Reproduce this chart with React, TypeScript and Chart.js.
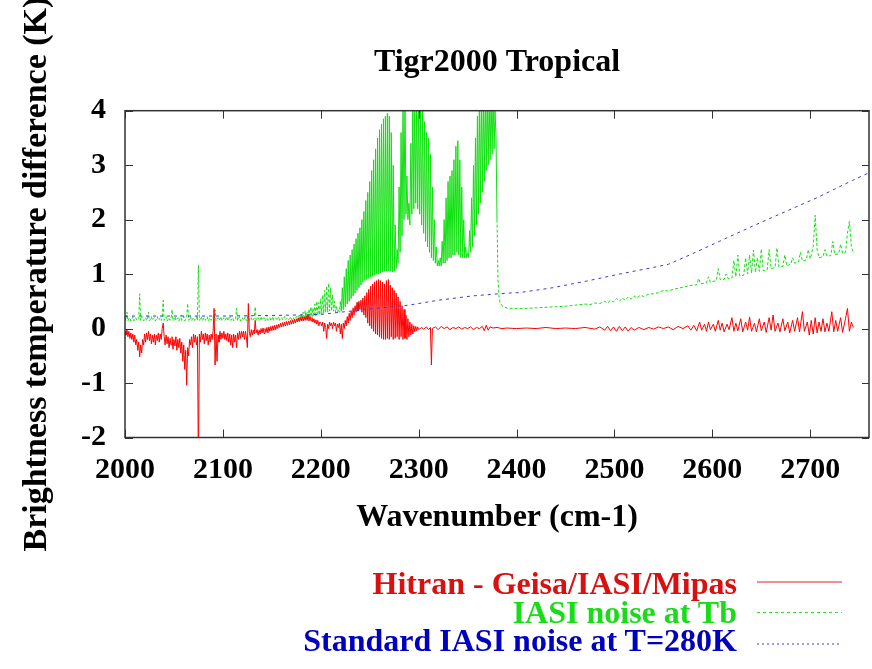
import React, { useEffect, useRef } from "react";
import { Chart, registerables } from "chart.js";

Chart.register(...registerables);

// ---------- axes ----------
const xTicks = [2000, 2100, 2200, 2300, 2400, 2500, 2600, 2700];
const yTicks = [-2, -1, 0, 1, 2, 3, 4];
const xMin = 2000;
const xMax = 2760;
const yMin = -2;
const yMax = 4;

const chartTitle = "Tigr2000 Tropical";
const xTitle = "Wavenumber (cm-1)";
const yTitle = "Brightness temperature difference (K)";
const seriesLabels = ["Hitran - Geisa/IASI/Mipas", "IASI noise at Tb", "Standard IASI noise at T=280K"];

// ---------- red: Hitran - Geisa/IASI/Mipas ----------
// one value per cm-1 from 2000 to 2300
const redFineStart = 2000;
const redFine = [
  -0.05, -0.12, -0.02, -0.15, -0.05, -0.18, -0.08, -0.2, -0.1, -0.25,
  -0.12, -0.3, -0.2, -0.4, -0.25, -0.52, -0.3, -0.45, -0.2, -0.3,
  -0.1, -0.25, -0.08, -0.2, -0.05, -0.22, -0.1, -0.28, -0.12, -0.25,
  -0.1, -0.3, -0.12, -0.22, -0.08, -0.25, -0.1, -0.2, 0.0, 0.1,
  -0.15, -0.3, -0.12, -0.28, -0.15, -0.35, -0.18, -0.3, -0.15, -0.38,
  -0.2, -0.32, -0.15, -0.4, -0.2, -0.35, -0.18, -0.45, -0.25, -0.6,
  -0.3, -0.75, -0.4, -1.04, -0.35, -0.5, -0.2, -0.3, -0.15, -0.35,
  -0.1, -0.25, -0.12, -0.3, -0.15, -2.6, -0.1, -0.25, -0.05, -0.2,
  -0.1, -0.28, -0.08, -0.22, -0.1, -0.3, -0.12, -0.25, -0.1, -0.2,
  -0.05, 0.37, -0.67, -0.1, -0.6, -0.12, -0.25, -0.05, -0.2, -0.08,
  -0.18, -0.05, -0.2, -0.1, -0.22, -0.08, -0.25, -0.1, -0.3, -0.12,
  -0.35, -0.1, -0.25, -0.12, -0.35, -0.08, -0.2, -0.05, -0.18, -0.05,
  -0.15, -0.05, -0.2, -0.05, -0.15, -0.35, 0.46, -0.05, -0.15, -0.02,
  -0.12, -0.03, -0.1, 0.15, -0.08, -0.02, -0.12, -0.03, -0.1, 0.0,
  -0.08, 0.01, -0.09, 0.0, -0.07, 0.02, -0.08, 0.03, -0.05, 0.04,
  -0.04, 0.05, -0.03, 0.06, -0.02, 0.07, 0.0, 0.08, 0.02, 0.1,
  0.03, 0.11, 0.04, 0.12, 0.05, 0.13, 0.06, 0.14, 0.07, 0.15,
  0.08, 0.16, 0.09, 0.17, 0.1, 0.18, 0.12, 0.2, 0.13, 0.21,
  0.14, 0.22, 0.14, 0.21, 0.15, 0.24, 0.15, 0.25, 0.14, 0.22,
  0.14, 0.2, 0.12, 0.18, 0.1, 0.16, 0.08, 0.15, 0.05, 0.12,
  0.1, 0.05, 0.12, -0.05, 0.1, 0.02, -0.18, 0.08, 0.0, 0.12,
  0.05, 0.1, 0.0, 0.12, 0.05, 0.1, -0.05, 0.08, 0.02, 0.1,
  -0.1, 0.08, -0.18, 0.1, 0.0, 0.15, 0.05, 0.22, 0.1, 0.28,
  0.15, 0.32, 0.2, 0.38, 0.25, 0.42, 0.3, 0.48, 0.32, 0.5,
  0.35, 0.52, 0.3, 0.56, 0.25, 0.6, 0.2, 0.66, 0.1, 0.72,
  0.05, 0.78, 0.0, 0.82, -0.05, 0.86, -0.1, 0.88, -0.12, 0.9,
  -0.15, 0.88, -0.18, 0.85, -0.2, 0.82, -0.2, 0.88, -0.18, 0.9,
  -0.2, 0.8, -0.15, 0.75, -0.2, 0.7, -0.18, 0.65, -0.15, 0.58,
  -0.2, 0.5, -0.15, 0.42, -0.2, 0.35, -0.18, 0.25, -0.2, 0.18,
  -0.15, 0.12, -0.12, 0.08, -0.1, 0.05, -0.06, 0.04, -0.04, 0.03,
  -0.02,
];
// [wavenumber, value] beyond 2300
const redTail = [
  [2303, 0.02], [2305, -0.01], [2308, 0.03], [2310, -0.02], [2312, 0.02], [2313, -0.67], [2314, 0.0],
  [2317, 0.03], [2320, -0.02], [2323, 0.04], [2326, 0.0], [2329, 0.03], [2332, -0.02], [2335, 0.02],
  [2338, 0.0], [2341, 0.03], [2344, -0.01], [2347, 0.02], [2350, 0.0], [2353, 0.03], [2356, -0.02],
  [2359, 0.02], [2362, 0.0], [2365, 0.04], [2367, -0.04], [2369, 0.06], [2371, -0.03], [2373, 0.03],
  [2376, 0.01], [2380, 0.02], [2385, 0.0], [2390, 0.01], [2400, 0.0], [2410, 0.01], [2420, 0.0],
  [2430, 0.02], [2440, 0.0], [2450, 0.01], [2460, 0.0], [2470, 0.02], [2480, -0.01], [2485, 0.03],
  [2490, -0.03], [2493, 0.04], [2496, -0.04], [2499, 0.03], [2502, -0.05], [2505, 0.04], [2508, -0.04],
  [2511, 0.03], [2514, -0.05], [2517, 0.02], [2520, -0.03], [2525, 0.02], [2530, -0.02], [2535, 0.02],
  [2540, -0.01], [2545, 0.03], [2550, 0.0], [2555, 0.03], [2560, -0.02], [2565, 0.04], [2570, 0.0],
  [2575, 0.05], [2578, -0.03], [2581, 0.06], [2584, -0.04], [2587, 0.12], [2589, -0.03], [2592, 0.08],
  [2594, -0.05], [2596, 0.12], [2598, -0.02], [2601, 0.08], [2603, -0.05], [2606, 0.15], [2608, -0.03],
  [2610, 0.1], [2612, -0.06], [2615, 0.08], [2617, -0.02], [2620, 0.2], [2622, -0.05], [2624, 0.1],
  [2626, -0.04], [2629, 0.18], [2631, -0.06], [2634, 0.12], [2636, -0.03], [2638, 0.21], [2640, -0.05],
  [2643, 0.1], [2645, -0.06], [2648, 0.18], [2650, -0.04], [2653, 0.12], [2655, -0.07], [2658, 0.2],
  [2660, -0.03], [2662, 0.25], [2664, -0.05], [2667, 0.1], [2669, -0.06], [2672, 0.18], [2674, -0.04],
  [2677, 0.12], [2679, -0.08], [2682, 0.15], [2684, -0.05], [2687, 0.2], [2689, -0.06], [2692, 0.31],
  [2694, -0.05], [2697, 0.12], [2699, -0.12], [2701, 0.15], [2703, -0.1], [2705, 0.2], [2707, -0.08],
  [2709, 0.12], [2711, -0.05], [2713, 0.18], [2715, -0.06], [2717, 0.1], [2719, -0.05], [2722, 0.31],
  [2724, -0.06], [2726, 0.15], [2728, -0.05], [2731, 0.2], [2733, -0.07], [2736, 0.18], [2738, 0.37],
  [2740, -0.05], [2742, 0.12], [2744, 0.02],
];

// ---------- green: IASI noise at Tb ----------
// one value per cm-1 from 2000 to 2175
const greenLowStart = 2000;
const greenLow = [
  0.2, 0.15, 0.3, 0.14, 0.18, 0.2, 0.14, 0.16, 0.22, 0.14,
  0.18, 0.2, 0.15, 0.17, 0.18, 0.64, 0.15, 0.2, 0.22, 0.14,
  0.17, 0.2, 0.15, 0.18, 0.3, 0.14, 0.17, 0.22, 0.15, 0.18,
  0.2, 0.14, 0.18, 0.22, 0.15, 0.17, 0.2, 0.15, 0.18, 0.52,
  0.15, 0.18, 0.22, 0.14, 0.17, 0.2, 0.15, 0.18, 0.35, 0.14,
  0.17, 0.22, 0.15, 0.18, 0.2, 0.14, 0.17, 0.25, 0.15, 0.18,
  0.22, 0.14, 0.17, 0.2, 0.46, 0.15, 0.18, 0.22, 0.14, 0.17,
  0.2, 0.15, 0.18, 0.22, 0.15, 1.17, 0.15, 0.18, 0.22, 0.14,
  0.17, 0.2, 0.15, 0.18, 0.22, 0.14, 0.17, 0.2, 0.15, 0.18,
  0.22, 0.18, 0.34, 0.14, 0.17, 0.2, 0.15, 0.18, 0.22, 0.14,
  0.17, 0.2, 0.15, 0.18, 0.22, 0.14, 0.17, 0.25, 0.15, 0.18,
  0.2, 0.14, 0.17, 0.18, 0.37, 0.15, 0.18, 0.22, 0.14, 0.17,
  0.2, 0.15, 0.18, 0.22, 0.14, 0.17, 0.28, 0.15, 0.18, 0.2,
  0.14, 0.17, 0.18, 0.4, 0.15, 0.18, 0.2, 0.14, 0.17, 0.22,
  0.15, 0.18, 0.2, 0.14, 0.17, 0.25, 0.15, 0.18, 0.2, 0.14,
  0.17, 0.22, 0.15, 0.18, 0.2, 0.15, 0.18, 0.22, 0.15, 0.18,
  0.2, 0.16, 0.18, 0.22, 0.16, 0.18, 0.2, 0.16, 0.18, 0.22,
  0.16, 0.18, 0.2, 0.16, 0.18, 0.22,
];
// one value per cm-1 from 2176 to 2379 (band: alternate high / low lines)
const greenBandStart = 2176;
const greenBand = [
  0.22, 0.15, 0.25, 0.16, 0.28, 0.17, 0.3, 0.17, 0.33, 0.18,
  0.3, 0.18, 0.36, 0.2, 0.4, 0.2, 0.38, 0.22, 0.45, 0.22,
  0.5, 0.24, 0.48, 0.25, 0.55, 0.27, 0.62, 0.28, 0.7, 0.3,
  0.78, 0.3, 0.83, 0.32, 0.75, 0.32, 0.62, 0.32, 0.5, 0.3,
  0.42, 0.3, 0.36, 0.3, 0.5, 0.32, 0.75, 0.35, 0.95, 0.4,
  1.1, 0.45, 1.25, 0.5, 1.35, 0.55, 1.45, 0.6, 1.55, 0.65,
  1.65, 0.7, 1.75, 0.75, 1.85, 0.8, 2.0, 0.85, 2.15, 0.88,
  2.35, 0.9, 2.5, 0.92, 2.7, 0.94, 2.9, 0.96, 3.1, 0.98,
  3.3, 1.0, 3.5, 1.0, 3.65, 1.02, 3.75, 1.04, 3.85, 1.05,
  3.9, 1.05, 3.95, 1.06, 3.9, 1.05, 3.6, 1.04, 3.0, 1.05,
  1.9, 1.1, 1.45, 1.2, 2.6, 1.4, 3.6, 1.7, 4.2, 2.0,
  4.3, 2.1, 2.8, 2.0, 2.3, 1.9, 3.4, 2.1, 4.3, 2.2,
  4.3, 2.3, 4.3, 2.2, 4.3, 2.1, 4.2, 1.9, 4.0, 1.75,
  3.8, 1.6, 3.6, 1.5, 3.5, 1.4, 3.2, 1.3, 2.6, 1.25,
  2.0, 1.2, 1.5, 1.15, 1.25, 1.15, 1.3, 1.15, 1.6, 1.2,
  2.0, 1.2, 2.4, 1.25, 2.7, 1.3, 2.8, 1.3, 2.9, 1.35,
  3.1, 1.35, 3.35, 1.4, 3.45, 1.35, 3.1, 1.3, 2.6, 1.3,
  2.0, 1.3, 1.5, 1.3, 1.38, 1.3, 1.8, 1.4, 2.4, 1.5,
  3.0, 1.7, 3.5, 1.9, 3.9, 2.1, 4.2, 2.3, 4.3, 2.5,
  4.3, 2.7, 4.3, 2.9, 4.3, 3.0, 4.3, 3.1, 4.3, 3.2,
  4.3, 3.3, 4.0, 3.5,
];
// [wavenumber, value] from 2380
const greenTail = [
  [2380, 2.0], [2381, 0.9], [2382, 0.6], [2383, 0.48], [2385, 0.42], [2388, 0.39], [2392, 0.37],
  [2400, 0.37], [2410, 0.37], [2420, 0.38], [2430, 0.39], [2440, 0.4], [2450, 0.41], [2460, 0.43],
  [2470, 0.45], [2475, 0.44], [2480, 0.47], [2485, 0.46], [2490, 0.5], [2493, 0.47], [2496, 0.52],
  [2499, 0.49], [2502, 0.55], [2505, 0.5], [2508, 0.56], [2511, 0.52], [2514, 0.58], [2517, 0.54],
  [2520, 0.6], [2523, 0.56], [2526, 0.61], [2530, 0.59], [2535, 0.63], [2540, 0.64], [2545, 0.66],
  [2550, 0.7], [2555, 0.69], [2560, 0.72], [2565, 0.74], [2570, 0.76], [2575, 0.78], [2580, 0.8],
  [2584, 0.8], [2586, 0.92], [2588, 0.82], [2594, 0.84], [2596, 0.95], [2598, 0.85], [2604, 0.88],
  [2606, 1.1], [2608, 0.9], [2612, 0.9], [2614, 1.0], [2616, 0.92], [2620, 0.93], [2622, 1.25],
  [2624, 0.95], [2626, 1.35], [2628, 0.96], [2632, 0.98], [2634, 1.3], [2636, 1.0], [2638, 1.35],
  [2640, 1.02], [2642, 1.44], [2644, 1.03], [2646, 1.3], [2648, 1.05], [2650, 1.46], [2652, 1.06],
  [2656, 1.08], [2658, 1.45], [2660, 1.1], [2664, 1.12], [2666, 1.48], [2668, 1.13], [2672, 1.14],
  [2674, 1.35], [2676, 1.15], [2680, 1.18], [2682, 1.3], [2684, 1.2], [2688, 1.22], [2690, 1.4],
  [2692, 1.24], [2696, 1.26], [2698, 1.45], [2700, 1.28], [2703, 1.5], [2705, 2.08], [2707, 1.45],
  [2709, 1.3], [2713, 1.32], [2715, 1.45], [2717, 1.33], [2721, 1.34], [2723, 1.6], [2725, 1.36],
  [2729, 1.37], [2731, 1.55], [2733, 1.38], [2736, 1.4], [2738, 1.75], [2740, 1.97], [2742, 1.5],
  [2744, 1.4],
];

// ---------- blue: Standard IASI noise at T=280K ----------
const blueWn = [2000, 2050, 2100, 2150, 2180, 2200, 2220, 2250, 2290, 2320, 2355, 2390, 2403, 2437, 2471, 2505, 2539, 2555, 2573, 2607, 2641, 2675, 2709, 2743, 2760];
const blueVal = [0.23, 0.23, 0.23, 0.24, 0.25, 0.26, 0.3, 0.36, 0.43, 0.52, 0.6, 0.65, 0.66, 0.75, 0.87, 1.0, 1.12, 1.18, 1.32, 1.6, 1.88, 2.15, 2.42, 2.72, 2.86];

const FONT = '"Liberation Serif", "Times New Roman", Times, serif';

const framePlugin = {
  id: "gnuplotFrame",
  afterDatasetsDraw(chart: any) {
    const { ctx, chartArea: a, scales } = chart;
    const xs = scales.x;
    const ys = scales.y;
    ctx.save();
    ctx.strokeStyle = "#333333";
    ctx.lineWidth = 1;
    ctx.beginPath();
    xTicks.forEach((v) => {
      const px = Math.round(xs.getPixelForValue(v)) + 0.5;
      ctx.moveTo(px, a.bottom);
      ctx.lineTo(px, a.bottom - 8);
      ctx.moveTo(px, a.top);
      ctx.lineTo(px, a.top + 8);
    });
    yTicks.forEach((v) => {
      const py = Math.round(ys.getPixelForValue(v)) + 0.5;
      ctx.moveTo(a.left, py);
      ctx.lineTo(a.left + 8, py);
      ctx.moveTo(a.right, py);
      ctx.lineTo(a.right - 7, py);
    });
    ctx.stroke();
    ctx.lineWidth = 1.5;
    ctx.strokeRect(a.left, a.top, a.right - a.left, a.bottom - a.top);
    ctx.restore();
  },
};

export default function App() {
  const canvasRef = useRef<HTMLCanvasElement | null>(null);

  useEffect(() => {
    const canvas = canvasRef.current;
    if (!canvas) return;

    const redPts = [
      ...redFine.map((v, i) => ({ x: redFineStart + i, y: v })),
      ...redTail.map(([x, y]) => ({ x, y })),
    ];
    const greenPts = [
      ...greenLow.map((v, i) => ({ x: greenLowStart + i, y: v })),
      ...greenBand.map((v, i) => ({ x: greenBandStart + i, y: v })),
      ...greenTail.map(([x, y]) => ({ x, y })),
    ];
    const bluePts = blueWn.map((x, i) => ({ x, y: blueVal[i] }));
    const bandEnd = greenBandStart + greenBand.length;

    const chart = new Chart(canvas, {
      type: "line",
      data: {
        datasets: [
          {
            label: seriesLabels[2],
            data: bluePts,
            borderColor: "#3a3ad8",
            borderWidth: 1,
            borderDash: [3, 4],
            pointRadius: 0,
            tension: 0,
          },
          {
            label: seriesLabels[0],
            data: redPts,
            borderColor: "#ff0000",
            borderWidth: 1,
            pointRadius: 0,
            tension: 0,
          },
          {
            label: seriesLabels[1],
            data: greenPts,
            borderColor: "#10e010",
            borderWidth: 1,
            borderDash: [3, 2],
            pointRadius: 0,
            tension: 0,
            segment: {
              borderDash: (c: any) =>
                c.p0.parsed.x >= greenBandStart + 44 && c.p1.parsed.x <= bandEnd ? [] : [3, 2],
            },
          },
        ],
      },
      options: {
        responsive: false,
        animation: false,
        devicePixelRatio: 1,
        layout: { padding: { left: 0, right: 3, top: 0, bottom: 0 } },
        plugins: {
          legend: { display: false },
          tooltip: { enabled: false },
          title: {
            display: true,
            text: chartTitle,
            fullSize: false,
            color: "#000000",
            font: { family: FONT, size: 32, weight: "bold" },
            padding: { top: 43.5, bottom: 28.8 },
          },
        },
        scales: {
          x: {
            type: "linear",
            min: xMin,
            max: xMax,
            afterBuildTicks: (s: any) => {
              s.ticks = xTicks.map((v) => ({ value: v }));
            },
            afterFit: (s: any) => {
              s.height = 231.5;
            },
            ticks: {
              autoSkip: false,
              maxRotation: 0,
              padding: 14.5,
              color: "#000000",
              font: { family: FONT, size: 30, weight: "bold" },
              callback: (v: any) => String(v),
            },
            grid: { display: false, drawTicks: false },
            border: { display: false },
            title: {
              display: true,
              text: xTitle,
              color: "#000000",
              font: { family: FONT, size: 32, weight: "bold" },
              padding: { top: 0, bottom: 131.8 },
            },
          },
          y: {
            type: "linear",
            min: yMin,
            max: yMax,
            afterBuildTicks: (s: any) => {
              s.ticks = yTicks.map((v) => ({ value: v }));
            },
            afterFit: (s: any) => {
              s.width = 125;
            },
            ticks: {
              padding: 19,
              color: "#000000",
              font: { family: FONT, size: 30, weight: "bold" },
              callback: (v: any) => String(v),
            },
            grid: { display: false, drawTicks: false },
            border: { display: false },
            title: {
              display: true,
              text: yTitle,
              color: "#000000",
              font: { family: FONT, size: 34, weight: "bold" },
              padding: { top: 17, bottom: 0 },
            },
          },
        },
      },
      plugins: [framePlugin],
    });

    return () => chart.destroy();
  }, []);

  const legendRows = [
    { text: seriesLabels[0], textColor: "#d81010", lineColor: "#e02020", dash: "", textTop: 567, lineY: 582 },
    { text: seriesLabels[1], textColor: "#18dc18", lineColor: "#30e030", dash: "3 3", textTop: 596, lineY: 612.5 },
    { text: seriesLabels[2], textColor: "#0000c0", lineColor: "#3a3ad8", dash: "2 3", textTop: 624, lineY: 644 },
  ];

  return (
    <div style={{ position: "absolute", left: 0, top: 0, width: 872, height: 669, background: "#ffffff", overflow: "hidden" }}>
      <canvas ref={canvasRef} width={872} height={669} style={{ position: "absolute", left: 0, top: 0, width: 872, height: 669 }} />
      {legendRows.map((r, i) => (
        <div
          key={i}
          style={{
            position: "absolute",
            right: 135,
            top: r.textTop,
            fontFamily: FONT,
            fontWeight: "bold",
            fontSize: 32,
            lineHeight: "32px",
            color: r.textColor,
            whiteSpace: "nowrap",
          }}
        >
          {r.text}
        </div>
      ))}
      <svg style={{ position: "absolute", left: 0, top: 0 }} width={872} height={669}>
        {legendRows.map((r, i) => (
          <line
            key={i}
            x1={757}
            x2={842}
            y1={r.lineY}
            y2={r.lineY}
            stroke={r.lineColor}
            strokeWidth={1}
            strokeDasharray={r.dash || undefined}
          />
        ))}
      </svg>
    </div>
  );
}
